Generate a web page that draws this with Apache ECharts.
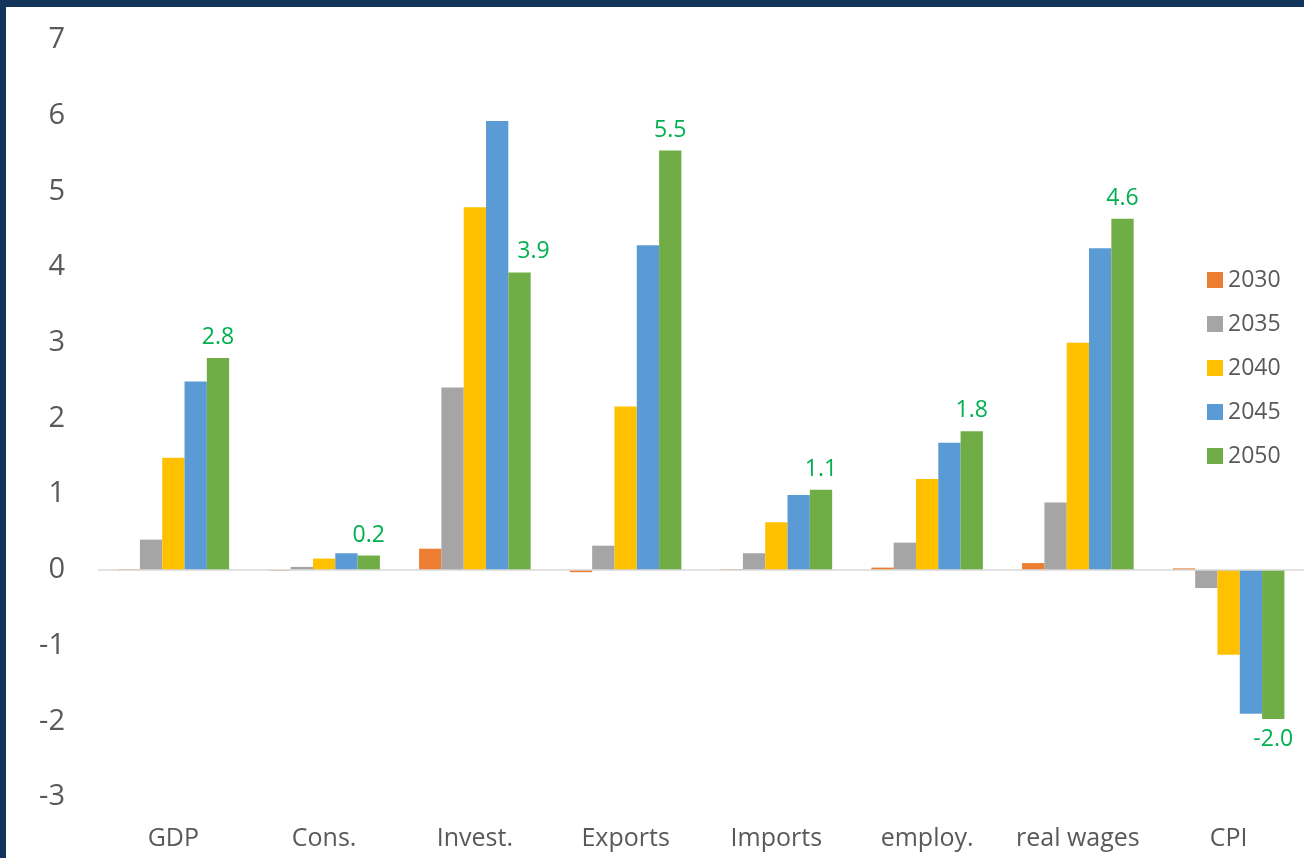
<!DOCTYPE html>
<html>
<head>
<meta charset="utf-8">
<script src="https://cdn.jsdelivr.net/npm/echarts@6/dist/echarts.min.js"></script>
<style>
  html, body { margin: 0; padding: 0; width: 1304px; height: 858px; background: #12335A; overflow: hidden; }
  #chart { position: absolute; left: 6px; top: 7px; width: 1298px; height: 851px; background: #ffffff; }
</style>
</head>
<body>
<div id="chart"></div>
<script>
// Categories and per-year values (percent change)
const categories = ['GDP', 'Cons.', 'Invest.', 'Exports', 'Imports', 'employ.', 'real wages', 'CPI'];
const years = ['2030', '2035', '2040', '2045', '2050'];
const v2030 = [0.01, -0.01, 0.28, -0.03, 0.01, 0.03, 0.09, 0.02];
const v2035 = [0.40, 0.04, 2.41, 0.32, 0.22, 0.36, 0.89, -0.24];
const v2040 = [1.48, 0.15, 4.79, 2.16, 0.63, 1.20, 3.00, -1.12];
const v2045 = [2.49, 0.22, 5.93, 4.29, 0.99, 1.68, 4.25, -1.90];
const v2050 = [2.80, 0.19, 3.93, 5.54, 1.06, 1.83, 4.64, -1.97];
const yTicks = { min: -3, max: 7, interval: 1 };

const seriesValues = [v2030, v2035, v2040, v2045, v2050];
const colors = ['#ED7D31', '#A5A5A5', '#FFC000', '#5B9BD5', '#70AD47'];
const font = '"Open Sans", "Liberation Sans", sans-serif';

// The last year carries green value labels; nudge the Invest. one clear of its neighbour
const labelNudge = { 2: [14, 0] };

function labelledData(values) {
  return values.map((v, i) => ({
    value: v,
    label: {
      show: true,
      position: v < 0 ? 'bottom' : 'top',
      offset: labelNudge[i] || [0, 0]
    }
  }));
}

const series = years.map((y, k) => ({
  name: y,
  type: 'bar',
  data: k === years.length - 1 ? labelledData(seriesValues[k]) : seriesValues[k],
  itemStyle: { color: colors[k] },
  barGap: '0%',
  barCategoryGap: '26%',
  label: {
    show: false,
    color: '#00B050',
    fontFamily: font,
    fontSize: 23,
    distance: 9,
    formatter: p => Number(p.value).toFixed(1)
  }
}));

// zero line across the plot
series[0].markLine = {
  silent: true,
  symbol: 'none',
  label: { show: false },
  lineStyle: { color: '#D9D9D9', width: 1.5, type: 'solid' },
  data: [{ yAxis: 0 }]
};

const chart = echarts.init(document.getElementById('chart'));
chart.setOption({
  animation: false,
  backgroundColor: '#ffffff',
  grid: { left: 92, right: 0, top: 33, bottom: 61, containLabel: false },
  legend: {
    orient: 'vertical',
    left: 1196,
    top: 256,
    itemWidth: 16,
    itemHeight: 16,
    itemGap: 20,
    icon: 'rect',
    data: years,
    textStyle: { color: '#595959', fontFamily: font, fontSize: 23, lineHeight: 24 }
  },
  xAxis: {
    type: 'category',
    data: categories,
    axisLine: { show: false, onZero: false },
    axisTick: { show: false },
    axisLabel: { color: '#595959', fontFamily: font, fontSize: 25, margin: 29, interval: 0 }
  },
  yAxis: {
    type: 'value',
    min: yTicks.min,
    max: yTicks.max,
    interval: yTicks.interval,
    splitLine: { show: false },
    axisLine: { show: false },
    axisTick: { show: false },
    axisLabel: { color: '#595959', fontFamily: font, fontSize: 29, margin: 33 }
  },
  series: series
});
</script>
</body>
</html>
